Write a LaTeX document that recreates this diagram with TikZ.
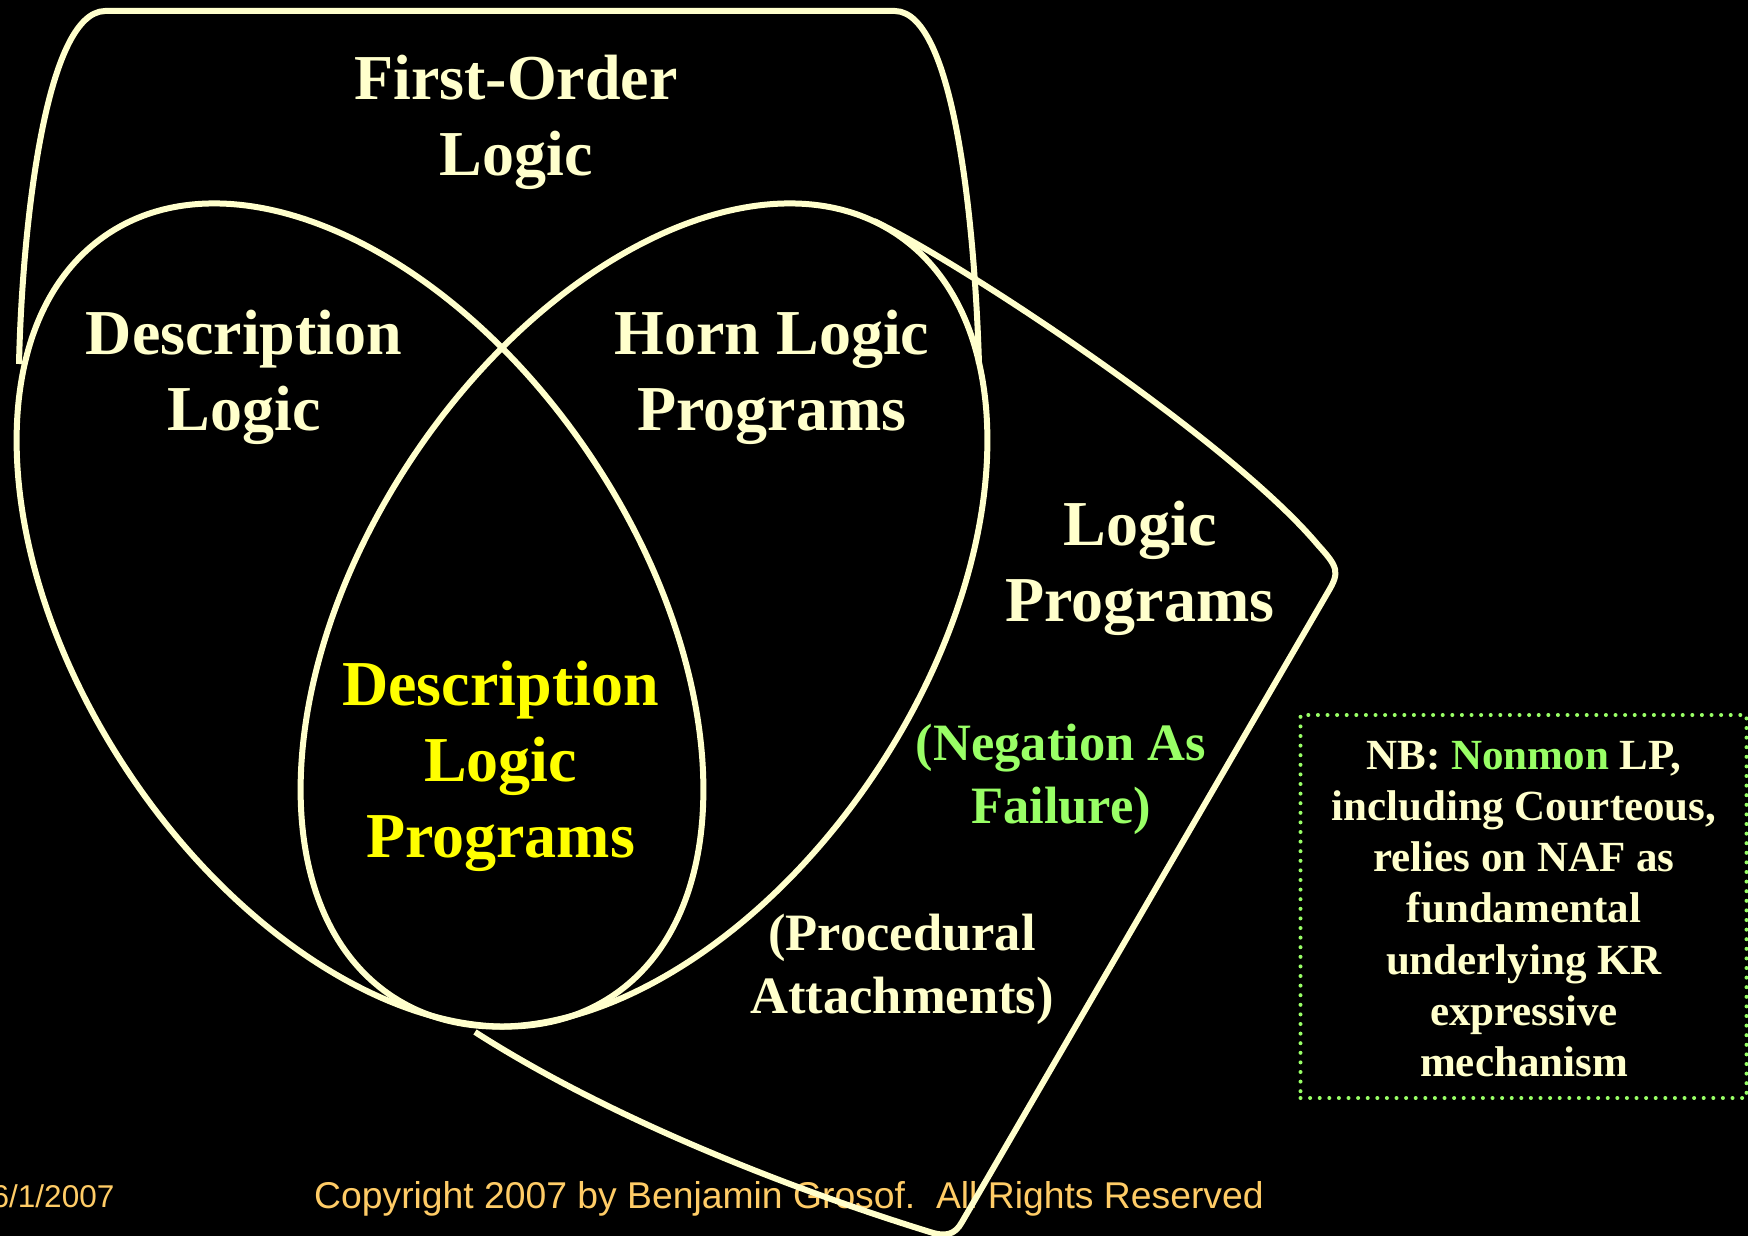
\documentclass[tikz,border=0pt]{standalone}
\usepackage{fontspec}
\setmainfont{Liberation Serif}
\newfontfamily\arialfont{Liberation Sans}
\definecolor{cream}{HTML}{FFFFCC}
\definecolor{dlpyellow}{HTML}{FFFF00}
\definecolor{nafgreen}{HTML}{99FF66}
\definecolor{footcol}{HTML}{FFCC66}
\newcommand\linesc[1]{\vtop{\halign{\hfil##\hfil\cr#1\crcr}}}
\tikzset{
  outline/.style={draw=cream, line width=6pt},
  bigtext/.style={font=\frenchspacing\fontsize{64}{76}\selectfont\bfseries, text=cream, inner sep=0pt, anchor=base},
  midtext/.style={font=\frenchspacing\fontsize{52.5}{63}\selectfont\bfseries, inner sep=0pt, anchor=base},
  smalltext/.style={font=\frenchspacing\fontsize{43}{51.3}\selectfont\bfseries, text=cream, inner sep=0pt, anchor=base},
  foottext/.style={font=\frenchspacing\arialfont\fontsize{37.3}{40}\selectfont, text=footcol, inner sep=0pt, anchor=base west},
  nbbox/.style={draw=nafgreen, line width=4pt, dash pattern=on 0pt off 9.6pt, line cap=round}
}
\begin{document}
\begin{tikzpicture}[x=1pt,y=-1pt]
\fill[black] (0,0) rectangle (1748,1236);
\useasboundingbox (0,0) rectangle (1748,1236);

% footer
\node[foottext, font=\arialfont\fontsize{31.5}{34}\selectfont] (date) at (-8.5,1207) {6/1/2007};
\node[foottext] (copy) at (314,1208.5) {Copyright 2007 by Benjamin Grosof.\ \ All Rights Reserved};

% First-Order Logic outline
\draw[outline] (19,364) .. controls (22,230) and (45,12) .. (105,11) -- (895,11)
  .. controls (955,12) and (975,230) .. (979,364);

% Description Logic ellipse and Horn Logic Programs ellipse
\draw[outline, rotate around={-56.6:(360,615)}] (360,615) ellipse [x radius=457, y radius=280];
\draw[outline, rotate around={56.6:(644,615)}] (644,615) ellipse [x radius=457, y radius=280];

% Logic Programs outline
\draw[outline] (874,221) .. controls (960,262) and (1230,440) .. (1318,545)
  .. controls (1338,567) and (1340,572) .. (1328,592) -- (962,1222)
  .. controls (955,1235) and (945,1237) .. (930,1232)
  .. controls (810,1195) and (620,1125) .. (475,1032);

% labels
\node[bigtext] (fol) at (516,100) {\linesc{First-Order\cr Logic}};
\node[bigtext] (dl) at (244,354) {\linesc{Description\cr Logic}};
\node[bigtext] (horn) at (772,354) {\linesc{Horn Logic\cr Programs}};
\node[bigtext] (lp) at (1140,545) {\linesc{Logic\cr Programs}};
\node[bigtext, text=dlpyellow] (dlp) at (500.5,705) {\linesc{Description\cr Logic\cr Programs}};
\node[midtext, text=nafgreen] (naf) at (1061,760) {\linesc{(Negation As\cr Failure)}};
\node[midtext, text=cream] (proc) at (902,950.5) {\linesc{(Procedural\cr Attachments)}};

% NB box
\node[nbbox, minimum width=446pt, minimum height=383pt, inner sep=0pt] (nb) at (1523.5,906.5) {};
\node[smalltext] (nbtext) at (1524,769) {\linesc{NB: {\color{nafgreen}Nonmon} LP,\cr including Courteous,\cr relies on NAF as\cr fundamental\cr underlying KR\cr expressive\cr mechanism}};
\end{tikzpicture}
\end{document}
